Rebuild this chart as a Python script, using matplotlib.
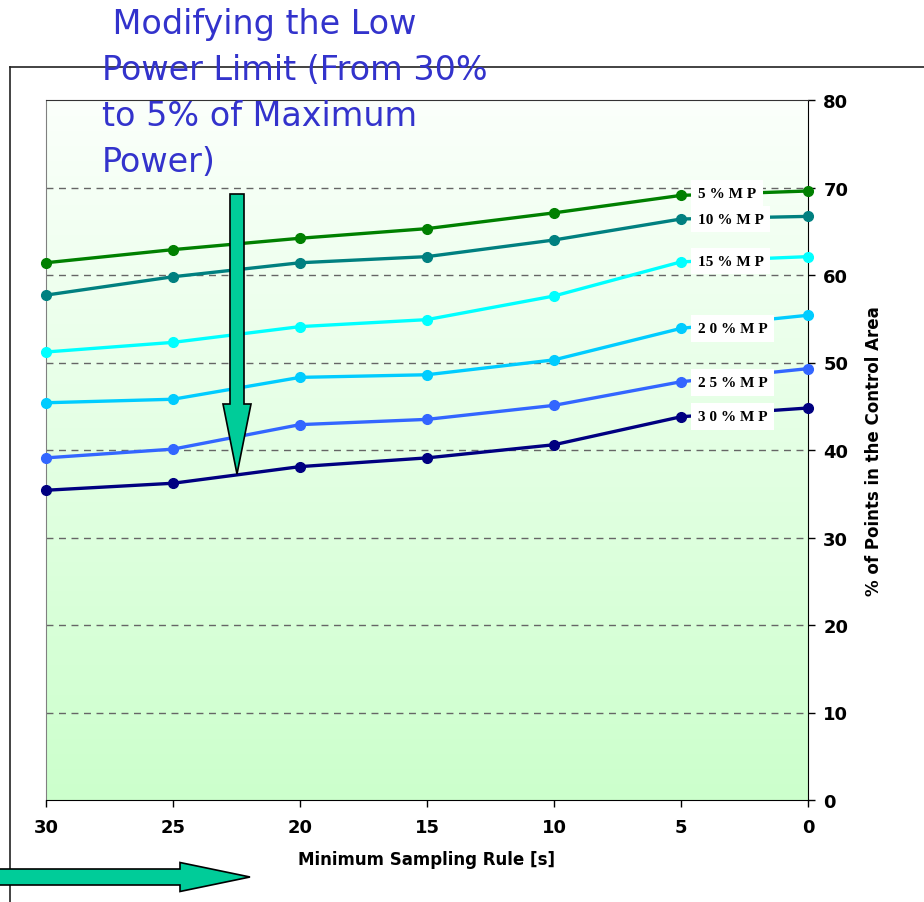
import numpy as np
import matplotlib
matplotlib.use("Agg")
import matplotlib.pyplot as plt
from matplotlib.colors import LinearSegmentedColormap
from matplotlib.patches import FancyArrow

# minimum sampling rule [s]
rule_s = [30, 25, 20, 15, 10, 5, 0]

# % of points in the control area, one list per low power limit
mp_5 = [61.4, 62.9, 64.2, 65.3, 67.1, 69.1, 69.6]
mp_10 = [57.7, 59.8, 61.4, 62.1, 64.0, 66.4, 66.7]
mp_15 = [51.2, 52.3, 54.1, 54.9, 57.6, 61.5, 62.1]
mp_20 = [45.4, 45.8, 48.3, 48.6, 50.3, 53.9, 55.4]
mp_25 = [39.1, 40.1, 42.9, 43.5, 45.1, 47.8, 49.3]
mp_30 = [35.4, 36.2, 38.1, 39.1, 40.6, 43.8, 44.8]

series_names = ["5 % M P", "10 % M P", "15 % M P", "2 0 % M P", "2 5 % M P", "3 0 % M P"]
series = [mp_5, mp_10, mp_15, mp_20, mp_25, mp_30]
colors = ["#008000", "#008080", "#00FFFF", "#00CCFF", "#3366FF", "#000080"]
label_y = [69.3, 66.4, 61.6, 53.9, 47.7, 43.8]

fig = plt.figure(figsize=(9.24, 9.03), dpi=100)
fig.patch.set_facecolor("white")

ax = fig.add_axes([46 / 924, 1 - 801 / 903, 762 / 924, 700 / 903])

# background gradient white -> light green
cmap = LinearSegmentedColormap.from_list("bg", ["#fbfffb", "#ccffcc"])
grad = np.linspace(0, 1, 256).reshape(-1, 1)
ax.imshow(grad, cmap=cmap, aspect="auto", extent=[30, 0, 0, 80],
          origin="upper", zorder=0)

for yv in range(10, 80, 10):
    ax.axhline(yv, color="#666666", lw=1, ls=(0, (5, 4)), zorder=1)

for name, vals, c in zip(series_names, series, colors):
    ax.plot(rule_s, vals, color=c, lw=2.4, marker="o", ms=7, zorder=3,
            clip_on=False)

for name, ly in zip(series_names, label_y):
    ax.text(4.35, ly, name, ha="left", va="center", fontsize=11,
            family="Liberation Serif", fontweight="bold", zorder=4,
            bbox=dict(facecolor="white", edgecolor="none", pad=5))

ax.set_xlim(30, 0)
ax.set_ylim(0, 80)
ax.set_xticks(rule_s)
ax.set_yticks(range(0, 81, 10))
ax.yaxis.tick_right()
ax.yaxis.set_label_position("right")
ax.tick_params(axis="both", direction="out", length=5, width=1,
               labelsize=13, colors="black")
ax.tick_params(axis="x", pad=8)
ax.tick_params(axis="y", pad=6)
for lab in ax.get_xticklabels() + ax.get_yticklabels():
    lab.set_fontweight("bold")

ax.set_xlabel("Minimum Sampling Rule [s]", fontsize=12, fontweight="bold",
              labelpad=10)
ax.set_ylabel("% of Points in the Control Area", fontsize=12,
              fontweight="bold", labelpad=12)

ax.spines["left"].set_color("#808080")
ax.spines["top"].set_color("#333333")
ax.spines["right"].set_color("black")
ax.spines["bottom"].set_color("black")

# outer frame lines
fig.add_artist(plt.Line2D([10 / 924, 1], [1 - 68 / 903, 1 - 68 / 903],
                          color="#222222", lw=1.2, transform=fig.transFigure))
fig.add_artist(plt.Line2D([10 / 924, 10 / 924], [1 - 68 / 903, 0],
                          color="#222222", lw=1.2, transform=fig.transFigure))

# title text
fig.text(102 / 924, 1 - 8 / 903,
         " Modifying the Low\nPower Limit (From 30%\nto 5% of Maximum\nPower)",
         ha="left", va="top", fontsize=24, color="#3333CC",
         linespacing=1.5, zorder=10)

# arrows in pixel -> figure coords
def px(x, y):
    return x / 924, 1 - y / 903

x0, y0 = px(237, 195)
x1, y1 = px(237, 475)
fig.add_artist(FancyArrow(x0, y0, 0, y1 - y0, width=14 / 924,
                          head_width=28 / 924, head_length=70 / 903,
                          length_includes_head=True, facecolor="#00CC99",
                          edgecolor="black", lw=1.2,
                          transform=fig.transFigure, zorder=9))

x0, y0 = px(-5, 878)
x1, y1 = px(250, 878)
fig.add_artist(FancyArrow(x0, y0, x1 - x0, 0, width=16 / 903,
                          head_width=29 / 903, head_length=70 / 924,
                          length_includes_head=True, facecolor="#00CC99",
                          edgecolor="black", lw=1.2,
                          transform=fig.transFigure, zorder=9))

fig.savefig("out.png", dpi=100)
